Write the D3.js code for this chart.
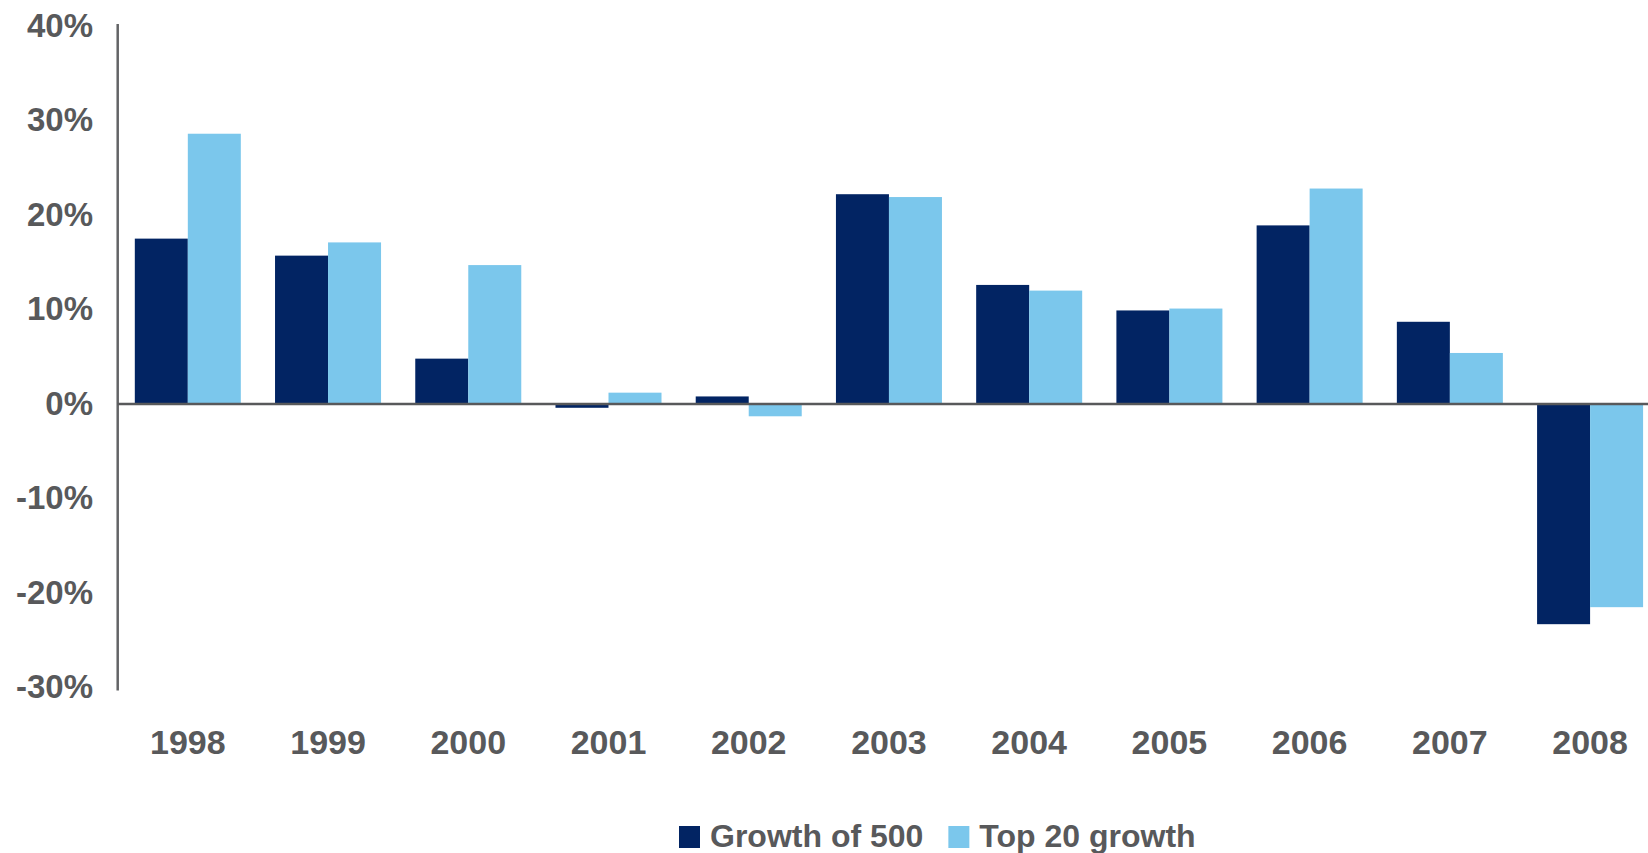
<!DOCTYPE html>
<html>
<head>
<meta charset="utf-8">
<script src="https://d3js.org/d3.v7.min.js"></script>
<style>
  body { margin: 0; background: #fff; }
  text { font-family: "Liberation Sans", Arial, sans-serif; font-weight: bold; fill: #58595b; }
</style>
</head>
<body>
<svg id="chart" width="1648" height="853"></svg>
<script>
// data (annual growth, %)
var years = ["1998", "1999", "2000", "2001", "2002", "2003", "2004", "2005", "2006", "2007", "2008"];
var seriesNames = ["Growth of 500", "Top 20 growth"];
var seriesColors = ["#022463", "#7bc7ec"];
var growth500 = [17.5, 15.7, 4.8, -0.4, 0.8, 22.2, 12.6, 9.9, 18.9, 8.7, -23.3];
var top20 = [28.6, 17.1, 14.7, 1.2, -1.3, 21.9, 12.0, 10.1, 22.8, 5.4, -21.5];
var yTicks = [-30, -20, -10, 0, 10, 20, 30, 40];

var svg = d3.select("#chart");

var axisX = 117.7;

var y = d3.scaleLinear()
  .domain([-30, 40])
  .range([687.5, 26]);

var x = d3.scaleBand()
  .domain(years)
  .range([axisX, 1660.2])
  .paddingInner(0.244)
  .paddingOuter(0.122);

var xInner = d3.scaleBand()
  .domain(seriesNames)
  .range([0, x.bandwidth()]);

var rows = years.map(function(yr, i) {
  return { year: yr, values: [growth500[i], top20[i]] };
});

// bars
var groups = svg.selectAll(".year")
  .data(rows)
  .enter().append("g")
  .attr("class", "year")
  .attr("transform", function(d) { return "translate(" + x(d.year) + ",0)"; });

groups.selectAll("rect")
  .data(function(d) { return d.values.map(function(v, j) { return { name: seriesNames[j], value: v, color: seriesColors[j] }; }); })
  .enter().append("rect")
  .attr("x", function(d) { return xInner(d.name); })
  .attr("width", xInner.bandwidth())
  .attr("y", function(d) { return y(Math.max(0, d.value)); })
  .attr("height", function(d) { return Math.abs(y(d.value) - y(0)); })
  .attr("fill", function(d) { return d.color; });

// vertical axis line
svg.append("line")
  .attr("x1", axisX).attr("x2", axisX)
  .attr("y1", y(40) - 2).attr("y2", y(-30) + 3)
  .attr("stroke", "#636466")
  .attr("stroke-width", 2.5);

// zero line
svg.append("line")
  .attr("x1", axisX).attr("x2", 1648)
  .attr("y1", y(0)).attr("y2", y(0))
  .attr("stroke", "#58595b")
  .attr("stroke-width", 2.5);

// y tick labels
svg.selectAll(".ylab")
  .data(yTicks)
  .enter().append("text")
  .attr("class", "ylab")
  .attr("x", 93)
  .attr("y", function(d) { return y(d) - 1; })
  .attr("dy", "0.35em")
  .attr("text-anchor", "end")
  .style("font-size", "33px")
  .text(function(d) { return d + "%"; });

// x labels
svg.selectAll(".xlab")
  .data(years)
  .enter().append("text")
  .attr("class", "xlab")
  .attr("x", function(d) { return x(d) + x.bandwidth() / 2; })
  .attr("y", 754)
  .attr("text-anchor", "middle")
  .style("font-size", "34px")
  .text(function(d) { return d; });

// legend
var legend = svg.append("g");
var lx = 679;
seriesNames.forEach(function(name, i) {
  legend.append("rect")
    .attr("x", lx).attr("y", 826)
    .attr("width", 21).attr("height", 22)
    .attr("fill", seriesColors[i]);
  var t = legend.append("text")
    .attr("x", lx + 31)
    .attr("y", 847)
    .style("font-size", "32px")
    .text(name);
  lx = lx + 31 + t.node().getComputedTextLength() + 25;
});
</script>
</body>
</html>
